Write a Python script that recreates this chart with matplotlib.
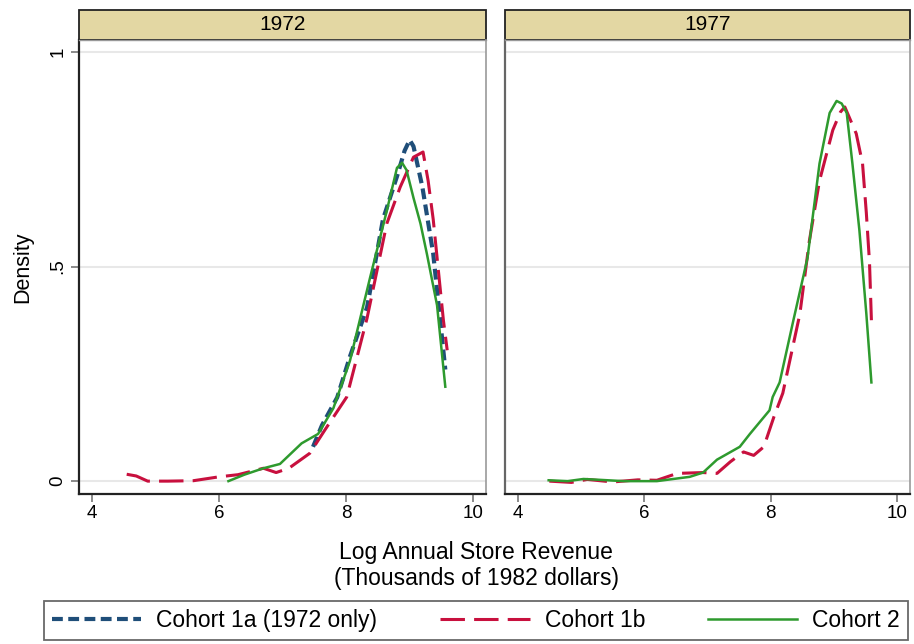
import matplotlib
matplotlib.use("Agg")
import matplotlib.pyplot as plt
from matplotlib.patches import Rectangle
from matplotlib.lines import Line2D

plt.rcParams['font.family'] = ['Liberation Sans', 'DejaVu Sans']

panels = ["1972", "1977"]
series_names = ["Cohort 1a (1972 only)", "Cohort 1b", "Cohort 2"]

# 1972 panel
c1a_72_x = [7.48, 7.62, 7.86, 8.06, 8.33, 8.58, 8.8, 8.92, 9.0, 9.06, 9.2, 9.37, 9.48, 9.56]
c1a_72_y = [0.08, 0.13, 0.195, 0.29, 0.405, 0.61, 0.71, 0.77, 0.795, 0.78, 0.685, 0.53, 0.375, 0.26]
c1b_72_x = [4.55, 4.7, 4.88, 5.2, 5.6, 6.0, 6.3, 6.7, 6.9, 7.1, 7.43, 7.67, 8.01, 8.33, 8.64, 8.85, 9.06, 9.21, 9.29, 9.37, 9.53, 9.59]
c1b_72_y = [0.016, 0.012, 0.0, 0.0, 0.001, 0.01, 0.015, 0.03, 0.02, 0.03, 0.065, 0.12, 0.196, 0.38, 0.60, 0.685, 0.755, 0.767, 0.70, 0.61, 0.375, 0.305]
c2_72_x = [6.15, 6.4, 6.7, 6.96, 7.3, 7.56, 7.8, 8.06, 8.38, 8.64, 8.8, 8.88, 8.95, 9.06, 9.17, 9.27, 9.43, 9.56]
c2_72_y = [0.0, 0.015, 0.03, 0.04, 0.088, 0.11, 0.17, 0.28, 0.476, 0.63, 0.73, 0.742, 0.725, 0.66, 0.60, 0.53, 0.41, 0.22]

# 1977 panel
c1b_77_x = [4.5, 4.85, 5.1, 5.5, 5.9, 6.2, 6.52, 6.93, 7.15, 7.36, 7.57, 7.73, 7.89, 8.05, 8.19, 8.46, 8.61, 8.77, 8.98, 9.1, 9.17, 9.35, 9.45, 9.51, 9.56, 9.59]
c1b_77_y = [0.0, -0.003, 0.004, -0.002, 0.003, 0.002, 0.018, 0.02, 0.018, 0.045, 0.068, 0.06, 0.08, 0.15, 0.205, 0.39, 0.56, 0.70, 0.818, 0.86, 0.872, 0.81, 0.74, 0.625, 0.51, 0.375]
c2_77_x = [4.49, 4.79, 5.04, 5.3, 5.67, 6.2, 6.72, 6.93, 7.15, 7.51, 7.67, 7.98, 8.03, 8.14, 8.35, 8.58, 8.77, 8.93, 9.04, 9.12, 9.2, 9.29, 9.4, 9.51, 9.59]
c2_77_y = [0.002, 0.0, 0.005, 0.003, 0.0, 0.0, 0.01, 0.02, 0.05, 0.08, 0.11, 0.165, 0.196, 0.23, 0.37, 0.52, 0.74, 0.858, 0.886, 0.88, 0.858, 0.74, 0.585, 0.39, 0.23]

xticks = [4, 6, 8, 10]
yticks = [0, 0.5, 1]
yticklabels = ["0", ".5", "1"]

c_blue = "#1f4e79"
c_red = "#c8103e"
c_green = "#2e9a2e"

fig = plt.figure(figsize=(9.14, 6.44), dpi=100)

W, H = 914, 644
def fr(x0, y0, x1, y1):
    return [x0 / W, 1 - y1 / H, (x1 - x0) / W, (y1 - y0) / H]

ax1 = fig.add_axes(fr(79, 40, 486, 494))
ax2 = fig.add_axes(fr(505, 40, 910, 494))

styles = {
    "c1a": dict(color=c_blue, lw=3.0, dashes=(2.6, 1.3)),
    "c1b": dict(color=c_red, lw=2.2, dashes=(8, 3)),
    "c2": dict(color=c_green, lw=1.8, linestyle="-"),
}

ax1.plot(c1a_72_x, c1a_72_y, **styles["c1a"])
ax1.plot(c1b_72_x, c1b_72_y, **styles["c1b"])
ax1.plot(c2_72_x, c2_72_y, **styles["c2"])
ax2.plot(c1b_77_x, c1b_77_y, **styles["c1b"])
ax2.plot(c2_77_x, c2_77_y, **styles["c2"])

for i, (ax, title) in enumerate(zip([ax1, ax2], panels)):
    ax.set_xlim(3.8, 10.2)
    ax.set_ylim(-0.03, 1.028)
    ax.set_xticks(xticks)
    ax.set_xticklabels([str(t) for t in xticks], fontsize=13.5)
    ax.set_yticks(yticks)
    for y in yticks:
        ax.axhline(y, color="#e8e8e8", lw=1.5, zorder=0)
    ax.tick_params(axis="x", length=6, width=1.2, color="#777777", pad=2)
    ax.tick_params(axis="y", length=6, width=1.2, color="#777777", pad=3)
    ax.spines["top"].set_color("#999999")
    ax.spines["right"].set_color("#999999")
    ax.spines["top"].set_linewidth(1.0)
    ax.spines["right"].set_linewidth(1.2)
    ax.spines["bottom"].set_color("#222222")
    ax.spines["bottom"].set_linewidth(1.6)
    if i == 0:
        ax.spines["left"].set_color("#222222")
        ax.spines["left"].set_linewidth(1.6)
        ax.set_yticklabels(yticklabels, fontsize=13.5, rotation=90, va="center")
        ax.set_ylabel("Density", fontsize=15.5, labelpad=12)
    else:
        ax.spines["left"].set_color("#666666")
        ax.spines["left"].set_linewidth(1.6)
        ax.tick_params(axis="y", length=0, labelleft=False)
    # strip
    strip = Rectangle((0, 1.0), 1, 30 / 454, transform=ax.transAxes, facecolor="#e3d7a3",
                      edgecolor="#222222", lw=1.3, clip_on=False)
    ax.add_patch(strip)
    ax.text(0.5, 1.0 + 15 / 454, title, transform=ax.transAxes, ha="center", va="center", fontsize=15)

fig.text(476 / W, 1 - 553 / H, "Log Annual Store Revenue", ha="center", va="center", fontsize=16.5)
fig.text(476 / W, 1 - 578 / H, "(Thousands of 1982 dollars)", ha="center", va="center", fontsize=16.5)

handles = [Line2D([], [], **styles["c1a"]), Line2D([], [], **styles["c1b"]), Line2D([], [], **styles["c2"])]
leg = fig.legend(handles, series_names, loc="lower left", ncol=3, mode="expand",
                 bbox_to_anchor=(44 / W, 1 - 640 / H, (908 - 44) / W, 42 / H),
                 fontsize=16.5, handlelength=3.9, handletextpad=0.65, frameon=True, fancybox=False,
                 edgecolor="#444444", borderaxespad=0, columnspacing=2, borderpad=0.35)
leg.get_frame().set_linewidth(1.3)

fig.savefig("out.png", dpi=100)
